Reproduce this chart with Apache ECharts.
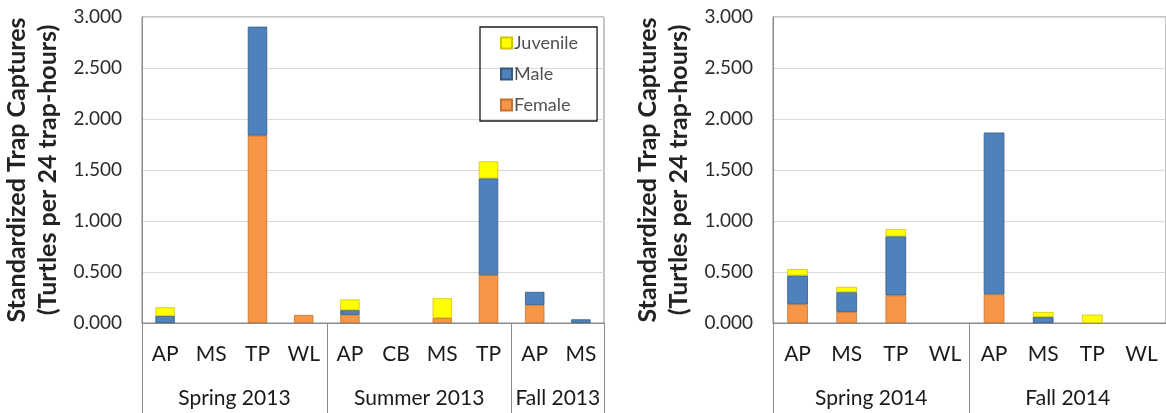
<!DOCTYPE html>
<html>
<head>
<meta charset="utf-8">
<script src="https://cdn.jsdelivr.net/npm/echarts@6/dist/echarts.min.js"></script>
<style>
  html, body { margin: 0; padding: 0; background: #fff; }
  #chart { width: 1166px; height: 413px; }
</style>
</head>
<body>
<div id="chart"></div>
<script>
// 2013 surveys: trap sites grouped by season
const sites2013 = ['AP', 'MS', 'TP', 'WL', 'AP', 'CB', 'MS', 'TP', 'AP', 'MS'];
const seasons2013 = ['Spring 2013', 'Summer 2013', 'Fall 2013'];
const seasonSizes2013 = [4, 4, 2];
const female2013   = [0,     0, 1.837, 0.079, 0.080, 0, 0.049, 0.469, 0.177, 0];
const male2013     = [0.069, 0, 1.068, 0,     0.046, 0, 0,     0.949, 0.128, 0.036];
const juvenile2013 = [0.085, 0, 0,     0,     0.105, 0, 0.194, 0.167, 0,     0];

// 2014 surveys
const sites2014 = ['AP', 'MS', 'TP', 'WL', 'AP', 'MS', 'TP', 'WL'];
const seasons2014 = ['Spring 2014', 'Fall 2014'];
const seasonSizes2014 = [4, 4];
const female2014   = [0.184, 0.108, 0.270, 0, 0.282, 0,     0,     0];
const male2014     = [0.282, 0.194, 0.580, 0, 1.585, 0.059, 0,     0];
const juvenile2014 = [0.062, 0.052, 0.069, 0, 0,     0.049, 0.083, 0];

const yTicks = { min: 0, max: 3, step: 0.5 };

const FONT = 'Lato, "Open Sans", sans-serif';
const TEXT = '#2b2b2b';
const AXIS = '#8a8a8a';
const GRIDLINE = '#d9d9d9';
const COLORS = {
  Female:   { fill: '#F79646', border: '#c2722f' },
  Male:     { fill: '#4F81BD', border: '#34597f' },
  Juvenile: { fill: '#FFFF00', border: '#d4c400' }
};

// empty cells draw nothing
const blank = arr => arr.map(v => (v === 0 ? '-' : v));

// boundaries and centres of the season bands along a 0..n value scale
function seasonLayout(sizes) {
  const edges = [0];
  const centres = [];
  sizes.forEach(s => {
    const start = edges[edges.length - 1];
    centres.push(start + s / 2);
    edges.push(start + s);
  });
  return { edges, centres };
}

function yAxisFor(gridIndex) {
  return {
    type: 'value', gridIndex,
    min: yTicks.min, max: yTicks.max, interval: yTicks.step,
    name: 'Standardized Trap Captures\n(Turtles per 24 trap-hours)',
    nameLocation: 'middle', nameRotate: 90, nameGap: 79,
    nameTextStyle: { fontFamily: FONT, fontSize: 25, fontWeight: 'bold', color: '#222222', lineHeight: 31 },
    axisLine: { show: true, lineStyle: { color: AXIS, width: 1 } },
    axisTick: { show: false },
    axisLabel: { fontFamily: FONT, fontSize: 19, color: TEXT, margin: 20, formatter: v => v.toFixed(3) },
    splitLine: { show: true, lineStyle: { color: GRIDLINE, width: 1 } }
  };
}

function siteAxis(gridIndex, sites) {
  return {
    type: 'category', gridIndex, data: sites, position: 'bottom',
    axisLine: { show: true, lineStyle: { color: AXIS, width: 1 } },
    axisTick: { show: false },
    axisLabel: { fontFamily: FONT, fontSize: 21, color: '#1a1a1a', margin: 21, interval: 0 },
    splitLine: { show: false }
  };
}

function seasonAxis(gridIndex, seasons, sizes, count) {
  const lay = seasonLayout(sizes);
  return {
    type: 'value', gridIndex, position: 'bottom', min: 0, max: count,
    axisLine: { show: false },
    axisTick: { show: true, inside: false, length: 95, customValues: lay.edges,
      lineStyle: { color: AXIS, width: 1 } },
    axisLabel: { fontFamily: FONT, fontSize: 21, color: '#1a1a1a', margin: 65,
      customValues: lay.centres,
      formatter: v => seasons[lay.centres.indexOf(v)] },
    splitLine: { show: false }
  };
}

function barSeries(name, data, xAxisIndex, yAxisIndex, stack) {
  return {
    name, type: 'bar', stack, xAxisIndex, yAxisIndex,
    data: blank(data), barWidth: '42%',
    itemStyle: { color: COLORS[name].fill, borderColor: COLORS[name].border, borderWidth: 0.8 },
    emphasis: { disabled: true }
  };
}

const chart = echarts.init(document.getElementById('chart'), null, { renderer: 'canvas' });
chart.setOption({
  animation: false,
  backgroundColor: '#ffffff',
  grid: [
    { left: 141, top: 17, width: 463, height: 306, show: true, borderColor: AXIS, borderWidth: 1, backgroundColor: 'transparent' },
    { left: 773, top: 17, width: 399, height: 306, show: true, borderColor: AXIS, borderWidth: 1, backgroundColor: 'transparent' }
  ],
  legend: {
    data: ['Juvenile', 'Male', 'Female'],
    orient: 'vertical', left: 480, top: 27,
    padding: [7, 19, 7, 20], itemGap: 13,
    itemWidth: 11, itemHeight: 11, icon: 'rect',
    borderColor: '#1a1a1a', borderWidth: 1.3,
    textStyle: { fontFamily: FONT, fontSize: 18, color: '#505050', padding: [0, 0, 0, -3] },
    selectedMode: false
  },
  xAxis: [
    siteAxis(0, sites2013),
    seasonAxis(0, seasons2013, seasonSizes2013, sites2013.length),
    siteAxis(1, sites2014),
    seasonAxis(1, seasons2014, seasonSizes2014, sites2014.length)
  ],
  yAxis: [yAxisFor(0), yAxisFor(1)],
  series: [
    barSeries('Female', female2013, 0, 0, 'y2013'),
    barSeries('Male', male2013, 0, 0, 'y2013'),
    barSeries('Juvenile', juvenile2013, 0, 0, 'y2013'),
    barSeries('Female', female2014, 2, 1, 'y2014'),
    barSeries('Male', male2014, 2, 1, 'y2014'),
    barSeries('Juvenile', juvenile2014, 2, 1, 'y2014')
  ]
});
</script>
</body>
</html>
